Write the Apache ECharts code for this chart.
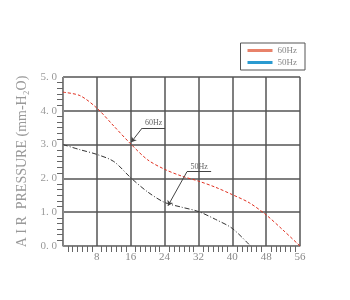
<!DOCTYPE html>
<html><head><meta charset="utf-8">
<script src="https://cdn.jsdelivr.net/npm/echarts@6/dist/echarts.min.js"></script>
<style>html,body{margin:0;padding:0;background:#fff}#c{width:350px;height:300px}</style>
</head><body><div id="c"></div>
<script>
const xs60 = [0, 4, 8, 12, 16, 20, 24, 28, 32, 36, 40, 44, 48, 52, 56];
const y60  = [4.55, 4.45, 4.08, 3.55, 3.02, 2.55, 2.27, 2.07, 1.92, 1.74, 1.52, 1.28, 0.92, 0.47, 0.0];
const xs50 = [0, 4, 8, 12, 16, 20, 24, 28, 32, 36, 40, 44.3];
const y50  = [3.0, 2.85, 2.71, 2.50, 2.02, 1.60, 1.29, 1.15, 1.02, 0.79, 0.52, 0.0];
const seriesNames = ['60Hz', '50Hz'];
const yTicks = ['0.0','1.0','2.0','3.0','4.0','5.0'];
// annotation anchors (data units)
const ann60 = {label:'60Hz', from:[18.7,3.49], to:[16.1,3.07], end:[24.1,3.49]};
const ann50 = {label:'50Hz', from:[29.3,2.2], to:[24.8,1.19], end:[35,2.2]};

const font = 'Liberation Serif';
const annColor = '#444';
function annLines(a){
  return [
    [{coord:a.from, symbol:'none'}, {coord:a.to, symbol:'arrow', symbolSize:5}],
    [{coord:a.from, symbol:'none'}, {coord:a.end, symbol:'none',
      label:{show:true, formatter:a.label, position:'insideMiddleTop', color:'#666', fontSize:8, fontFamily:font, distance:1}}]
  ];
}
const chart = echarts.init(document.getElementById('c'));
chart.setOption({
  animation:false,
  grid:{left:63, right:50, top:77, bottom:54},
  legend:{
    right:45, top:43, orient:'vertical', itemGap:3, itemWidth:25, itemHeight:3,
    padding:[3,8,3,7], borderColor:'#555', borderWidth:1,
    textStyle:{fontSize:9, color:'#888', fontFamily:font},
    data:[
      {name:'60Hz', icon:'rect', itemStyle:{color:'#e8826a'}},
      {name:'50Hz', icon:'rect', itemStyle:{color:'#2a9ad0'}}
    ]
  },
  xAxis:{
    type:'value', min:0, max:56, interval:8,
    axisLine:{show:true, onZero:false, lineStyle:{color:'#888', width:1}},
    axisTick:{show:false},
    minorTick:{show:true, splitNumber:7, length:6, lineStyle:{color:'#666', width:1}},
    axisLabel:{color:'#888', fontFamily:font, fontSize:11, margin:6,
      formatter:v=> v===0 ? '' : String(v)},
    splitLine:{show:true, lineStyle:{color:'#555', width:1.5}}
  },
  yAxis:{
    type:'value', min:0, max:5, interval:1,
    name:'A I R  PRESSURE (mm-H\u2082O)', nameLocation:'middle', nameGap:34,
    nameTextStyle:{color:'#999', fontFamily:font, fontSize:14},
    axisLine:{show:true, lineStyle:{color:'#888', width:1}},
    axisTick:{show:false},
    minorTick:{show:true, splitNumber:6, length:6, lineStyle:{color:'#666', width:1}},
    axisLabel:{color:'#999', fontFamily:font, fontSize:11, margin:6,
      formatter:v=> yTicks[Math.round(v)].replace('.', '. ')},
    splitLine:{show:true, lineStyle:{color:'#555', width:1.5}}
  },
  series:[
    {name:seriesNames[0], type:'line', smooth:0.3, showSymbol:false,
      data:xs60.map((x,i)=>[x,y60[i]]),
      itemStyle:{color:'#e8826a'},
      lineStyle:{color:'#e03020', width:1, type:[3,2]},
      markLine:{silent:true, symbol:'none', lineStyle:{color:annColor, width:1, type:'solid'},
        label:{show:false}, data:annLines(ann60)}
    },
    {name:seriesNames[1], type:'line', smooth:0.3, showSymbol:false,
      data:xs50.map((x,i)=>[x,y50[i]]),
      itemStyle:{color:'#2a9ad0'},
      lineStyle:{color:'#333', width:1, type:[5,2,1,2]},
      markLine:{silent:true, symbol:'none', lineStyle:{color:annColor, width:1, type:'solid'},
        label:{show:false}, data:annLines(ann50)}
    }
  ]
});
</script></body></html>
